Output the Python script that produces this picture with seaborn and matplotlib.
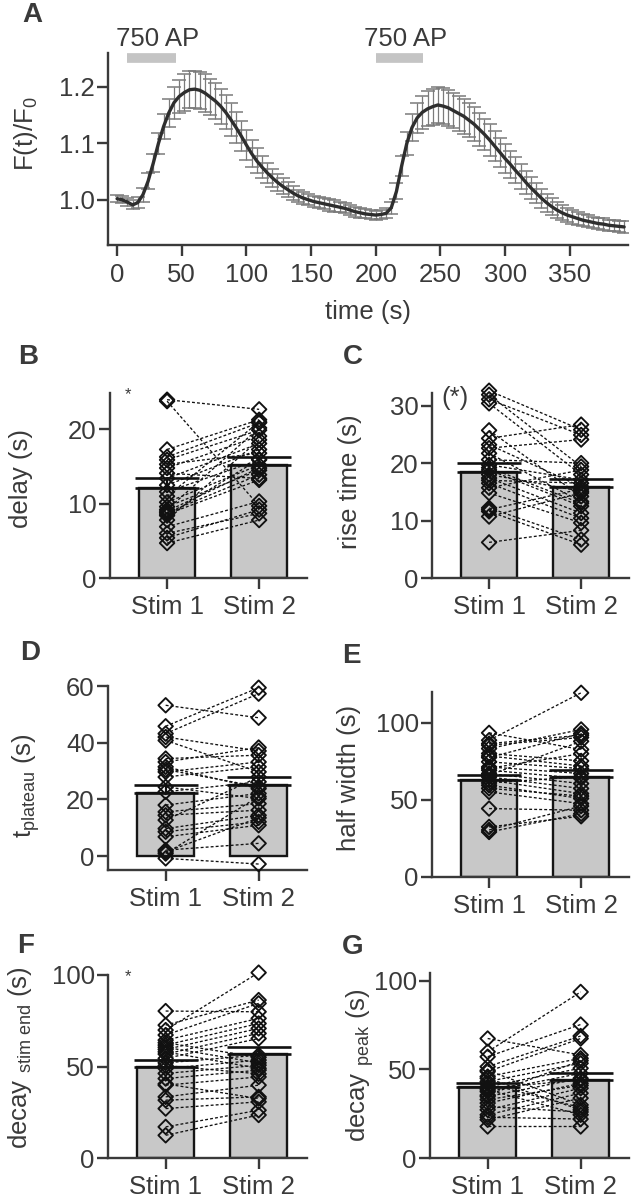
import matplotlib
matplotlib.use("Agg")
import matplotlib.pyplot as plt
import numpy as np
import pandas as pd
import seaborn as sns

# ---------------- data: panel A (mean trace +/- SEM) ----------------
time_s = [0, 4, 8, 12, 16, 20, 24, 28, 32, 36, 40, 44, 48, 52, 56, 60, 64, 68, 72, 76,
          80, 84, 88, 92, 96, 100, 104, 108, 112, 116, 120, 124, 128, 132, 136, 140, 144, 148, 152, 156,
          160, 164, 168, 172, 176, 180, 184, 188, 192, 196, 200, 204, 208, 212, 216, 220, 224, 228, 232, 236,
          240, 244, 248, 252, 256, 260, 264, 268, 272, 276, 280, 284, 288, 292, 296, 300, 304, 308, 312, 316,
          320, 324, 328, 332, 336, 340, 344, 348, 352, 356, 360, 364, 368, 372, 376, 380, 384, 388, 392]
trace_mean = [1.002, 1.000, 0.996, 0.991, 0.995, 1.009, 1.033, 1.065, 1.100, 1.130, 1.154, 1.172, 1.183, 1.190, 1.195, 1.196, 1.194, 1.189, 1.182, 1.175,
              1.166, 1.155, 1.142, 1.128, 1.113, 1.097, 1.082, 1.069, 1.058, 1.048, 1.039, 1.031, 1.024, 1.018, 1.012, 1.007, 1.003, 1.000, 0.997, 0.995,
              0.993, 0.991, 0.989, 0.987, 0.985, 0.982, 0.979, 0.977, 0.975, 0.974, 0.973, 0.974, 0.976, 0.986, 1.015, 1.060, 1.100, 1.128, 1.145, 1.155,
              1.161, 1.165, 1.168, 1.166, 1.163, 1.158, 1.153, 1.148, 1.141, 1.134, 1.125, 1.116, 1.106, 1.095, 1.084, 1.073, 1.063, 1.052, 1.042, 1.031,
              1.021, 1.012, 1.003, 0.995, 0.988, 0.982, 0.977, 0.973, 0.970, 0.967, 0.964, 0.962, 0.960, 0.958, 0.957, 0.955, 0.954, 0.953, 0.952]
trace_sem = [0.006, 0.006, 0.007, 0.008, 0.010, 0.012, 0.014, 0.016, 0.018, 0.022, 0.025, 0.028, 0.030, 0.032, 0.033, 0.033, 0.033, 0.033, 0.032, 0.032,
             0.031, 0.030, 0.029, 0.028, 0.027, 0.026, 0.024, 0.022, 0.020, 0.018, 0.016, 0.015, 0.014, 0.013, 0.012, 0.011, 0.011, 0.010, 0.010, 0.010,
             0.010, 0.010, 0.010, 0.009, 0.009, 0.009, 0.009, 0.009, 0.008, 0.008, 0.008, 0.008, 0.009, 0.011, 0.014, 0.017, 0.020, 0.024, 0.027, 0.029,
             0.031, 0.032, 0.032, 0.032, 0.032, 0.031, 0.031, 0.031, 0.030, 0.030, 0.029, 0.028, 0.028, 0.027, 0.026, 0.025, 0.024, 0.023, 0.022, 0.020,
             0.019, 0.018, 0.017, 0.016, 0.015, 0.014, 0.013, 0.012, 0.012, 0.011, 0.011, 0.011, 0.010, 0.010, 0.010, 0.010, 0.010, 0.010, 0.010]
stim_start = [8, 200]
stim_end = [45.5, 236.5]
stim_label = "750 AP"
time_ticks = [0, 50, 100, 150, 200, 250, 300, 350]
ratio_ticks = [1.0, 1.1, 1.2]

# ---------------- data: panels B-G (paired cells) ----------------
conditions = ["Stim 1", "Stim 2"]

delay_mean = [12.1, 15.2]
delay_sem = [1.3, 1.1]
delay_stim1 = [24.0, 23.8, 17.3, 16.3, 15.9, 15.3, 14.8, 14.1, 13.4, 12.5, 11.6, 11.0, 10.2, 9.6, 9.2, 8.8, 8.4, 7.8, 6.9, 6.0, 5.4, 4.7, 9.0, 8.6]
delay_stim2 = [22.7, 9.7, 21.3, 20.9, 19.9, 16.8, 19.1, 13.4, 18.1, 17.3, 15.9, 21.0, 15.2, 14.5, 20.2, 13.9, 16.0, 18.6, 10.3, 8.7, 9.2, 7.8, 14.8, 13.2]

rise_mean = [18.4, 15.8]
rise_sem = [1.6, 1.4]
rise_stim1 = [32.6, 31.9, 31.1, 30.4, 25.7, 24.3, 23.2, 22.6, 21.7, 20.6, 19.7, 18.8, 18.0, 17.4, 16.5, 15.7, 14.8, 12.2, 11.6, 10.7, 6.2, 17.0, 19.2, 11.9]
rise_stim2 = [25.8, 19.4, 24.9, 18.0, 14.2, 26.7, 15.9, 24.1, 13.3, 20.0, 17.1, 12.5, 15.1, 11.3, 10.4, 18.8, 9.6, 6.7, 5.8, 14.8, 8.3, 16.5, 13.0, 15.5]

plateau_mean = [22.3, 25.0]
plateau_sem = [2.9, 2.9]
plateau_stim1 = [53.2, 45.8, 43.2, 42.0, 40.8, 34.4, 33.2, 31.5, 29.7, 27.9, 24.4, 22.7, 18.0, 15.6, 14.4, 12.7, 9.7, 8.6, 6.8, 2.1, 0.9, -0.8, 30.5, 1.5]
plateau_stim2 = [48.8, 59.4, 57.3, 37.1, 29.7, 35.6, 38.3, 23.8, 33.2, 31.5, 20.3, 26.2, 22.1, 18.5, 16.2, 27.9, 14.4, 12.1, 10.9, 4.5, 21.0, -2.8, 24.5, 13.5]

halfwidth_mean = [62.8, 64.9]
halfwidth_sem = [3.2, 4.8]
halfwidth_stim1 = [93.5, 88.7, 85.5, 83.3, 80.1, 77.5, 74.7, 71.4, 69.3, 67.1, 64.9, 62.8, 59.5, 55.2, 44.4, 32.5, 29.2, 30.5, 66.0, 70.5, 61.0, 78.5, 86.5, 57.5]
halfwidth_stim2 = [82.7, 119.5, 90.5, 95.7, 75.3, 93.1, 70.3, 67.1, 63.9, 60.6, 57.4, 54.1, 50.9, 47.6, 43.3, 39.4, 41.0, 46.0, 88.0, 80.0, 65.0, 72.0, 92.0, 52.5]

decayend_mean = [49.8, 56.6]
decayend_sem = [4.0, 4.2]
decayend_stim1 = [80.3, 69.9, 72.6, 67.2, 64.4, 61.7, 59.3, 56.8, 54.4, 52.0, 48.9, 46.2, 43.4, 39.8, 33.4, 31.6, 27.0, 17.0, 12.4, 60.5, 58.0, 50.5, 40.5, 63.0]
decayend_stim2 = [79.9, 101.3, 86.3, 84.5, 76.3, 73.5, 70.8, 68.1, 65.3, 56.2, 53.5, 50.7, 48.0, 44.3, 39.8, 33.4, 30.7, 26.1, 23.5, 52.0, 49.0, 46.0, 32.5, 55.0]

decaypeak_mean = [40.0, 44.1]
decaypeak_sem = [2.6, 4.1]
decaypeak_stim1 = [67.5, 60.0, 57.2, 51.6, 48.8, 46.0, 43.2, 40.3, 37.5, 34.7, 31.0, 27.2, 24.4, 21.6, 17.8, 49.5, 45.0, 38.5, 35.5, 42.0, 33.0, 29.0, 23.0, 39.5]
decaypeak_stim2 = [58.2, 93.8, 75.4, 68.9, 67.5, 56.3, 53.5, 50.7, 47.8, 45.0, 42.2, 39.4, 36.6, 33.8, 17.8, 30.0, 27.2, 24.4, 55.0, 28.5, 41.0, 26.0, 22.0, 44.0]

# ---------------- style ----------------
sns.set_theme(style="ticks")
plt.rcParams["font.family"] = ["Liberation Sans", "DejaVu Sans"]
plt.rcParams["mathtext.fontset"] = "custom"
plt.rcParams["mathtext.rm"] = "Liberation Sans"
plt.rcParams["mathtext.it"] = "Liberation Sans:italic"
DARK = "#3a3a3a"
for k in ["text.color", "axes.labelcolor", "xtick.color", "ytick.color", "axes.edgecolor"]:
    plt.rcParams[k] = DARK
plt.rcParams["axes.linewidth"] = 1.7
plt.rcParams["xtick.major.width"] = 1.7
plt.rcParams["ytick.major.width"] = 1.7
plt.rcParams["xtick.major.size"] = 8
plt.rcParams["ytick.major.size"] = 8
FS = 18.5

W, H = 634, 1200
fig = plt.figure(figsize=(W / 100, H / 100), dpi=100)
fig.patch.set_facecolor("white")


def rect(l, r, t, b):
    return [l / W, 1 - b / H, (r - l) / W, (b - t) / H]


def style_axes(ax):
    ax.set_facecolor("white")
    for s in ["top", "right"]:
        ax.spines[s].set_visible(False)
    ax.tick_params(labelsize=FS, pad=1.5)


# ---------------- panel A ----------------
axA = fig.add_axes(rect(108, 628, 53, 245))
style_axes(axA)
trace = pd.DataFrame({"time": time_s, "mean": trace_mean, "sem": trace_sem})
eb = axA.errorbar(trace["time"], trace["mean"], yerr=trace["sem"], fmt="none",
                  ecolor="#7a7a7a", elinewidth=0.9, capsize=4.8, capthick=1.1, zorder=2)
for cl in eb[1]:
    cl.set_color("#3c3c3c")
sns.lineplot(data=trace, x="time", y="mean", ax=axA, color="#2e2e2e", lw=2.4, zorder=3)
for s0, s1 in zip(stim_start, stim_end):
    axA.plot([s0, s1], [1.251, 1.251], color="#c4c4c4", lw=7, solid_capstyle="butt", clip_on=False)
    axA.text((s0 + s1) / 2 + 4.5, 1.285, stim_label, ha="center", va="center", fontsize=FS, clip_on=False)
axA.set_xlim(-7, 395)
axA.set_ylim(0.92, 1.26)
axA.set_xticks(time_ticks)
axA.set_yticks(ratio_ticks)
axA.set_yticklabels([f"{v:.1f}" for v in ratio_ticks])
axA.set_xlabel("time (s)", fontsize=FS, labelpad=9)
axA.set_ylabel(r"F(t)/F$_0$", fontsize=FS)
axA.yaxis.set_label_coords(-0.13, 0.58)
axA.tick_params(axis="x", pad=5)

# ---------------- panels B-G ----------------
panels = [
    dict(mean=delay_mean, sem=delay_sem, s1=delay_stim1, s2=delay_stim2, rect=(110, 307, 393, 578),
         ylim=(0, 24.9), yticks=[0, 10, 20], ylabel="delay (s)", lab=(-0.39, 0.54), note="*", note_xy=(0.09, 0.99), note_fs=12),
    dict(mean=rise_mean, sem=rise_sem, s1=rise_stim1, s2=rise_stim2, rect=(432, 629, 393, 578),
         ylim=(0, 32.2), yticks=[0, 10, 20, 30], ylabel="rise time (s)", lab=(-0.355, 0.52), note="(*)", note_xy=(0.115, 0.975), note_fs=FS),
    dict(mean=plateau_mean, sem=plateau_sem, s1=plateau_stim1, s2=plateau_stim2, rect=(108, 307, 686, 870),
         ylim=(-4.9, 60), yticks=[0, 20, 40, 60], ylabel=r"t$_{\mathrm{plateau}}$ (s)", lab=(-0.33, 0.46), note=None),
    dict(mean=halfwidth_mean, sem=halfwidth_sem, s1=halfwidth_stim1, s2=halfwidth_stim2, rect=(432, 629, 692, 877),
         ylim=(0, 120), yticks=[0, 50, 100], ylabel="half width (s)", lab=(-0.36, 0.535), note=None),
    dict(mean=decayend_mean, sem=decayend_sem, s1=decayend_stim1, s2=decayend_stim2, rect=(108, 307, 975, 1158),
         ylim=(0, 100), yticks=[0, 50, 100], ylabel=r"decay ${}_{\mathrm{stim\ end}}$ (s)", lab=(-0.37, 0.55), note="*", note_xy=(0.10, 0.99), note_fs=12),
    dict(mean=decaypeak_mean, sem=decaypeak_sem, s1=decaypeak_stim1, s2=decaypeak_stim2, rect=(430, 629, 973, 1158),
         ylim=(0, 104.5), yticks=[0, 50, 100], ylabel=r"decay ${}_{\mathrm{peak}}$ (s)", lab=(-0.27, 0.50), note=None),
]

for p in panels:
    ax = fig.add_axes(rect(*p["rect"]))
    style_axes(ax)
    bars = pd.DataFrame({"cond": conditions, "value": p["mean"]})
    sns.barplot(data=bars, x="cond", y="value", ax=ax, color="#c8c8c8", saturation=1,
                edgecolor="#151515", linewidth=1.7, width=0.61, zorder=1)
    ax.errorbar([0, 1], p["mean"], yerr=[[0, 0], p["sem"]], fmt="none", ecolor="#111111",
                elinewidth=1.6, capsize=23, capthick=1.9, zorder=3)
    n = len(p["s1"])
    pairs = pd.DataFrame({"cell": list(range(n)) * 2,
                          "pos": [0] * n + [1] * n,
                          "value": list(p["s1"]) + list(p["s2"])})
    sns.lineplot(data=pairs, x="pos", y="value", units="cell", estimator=None, ax=ax,
                 color="#111111", lw=0.95, linestyle=(0, (2.2, 1.6)), zorder=4)
    ax.scatter(pairs["pos"], pairs["value"], marker="D", s=55, facecolors="none",
               edgecolors="#111111", linewidths=1.35, zorder=5, clip_on=False)
    ax.set_xlim(-0.62, 1.52)
    ax.set_ylim(*p["ylim"])
    ax.set_yticks(p["yticks"])
    ax.set_xticks([0, 1])
    ax.set_xticklabels(conditions)
    ax.tick_params(axis="x", pad=4)
    ax.set_xlabel("")
    ax.set_ylabel(p["ylabel"], fontsize=FS)
    ax.yaxis.set_label_coords(*p["lab"])
    if p["note"]:
        ax.text(p["note_xy"][0], p["note_xy"][1], p["note"], transform=ax.transAxes,
                ha="center", va="center", fontsize=p["note_fs"])

# panel letters
for letter, (x, y) in zip("ABCDEFG", [(22, 15), (18, 357), (343, 357), (20, 653), (342, 656), (17, 946), (342, 947)]):
    fig.text(x / W, 1 - y / H, letter, fontsize=20, fontweight="bold", ha="left", va="center", color=DARK)

fig.savefig("out.png", dpi=100, facecolor="white")
